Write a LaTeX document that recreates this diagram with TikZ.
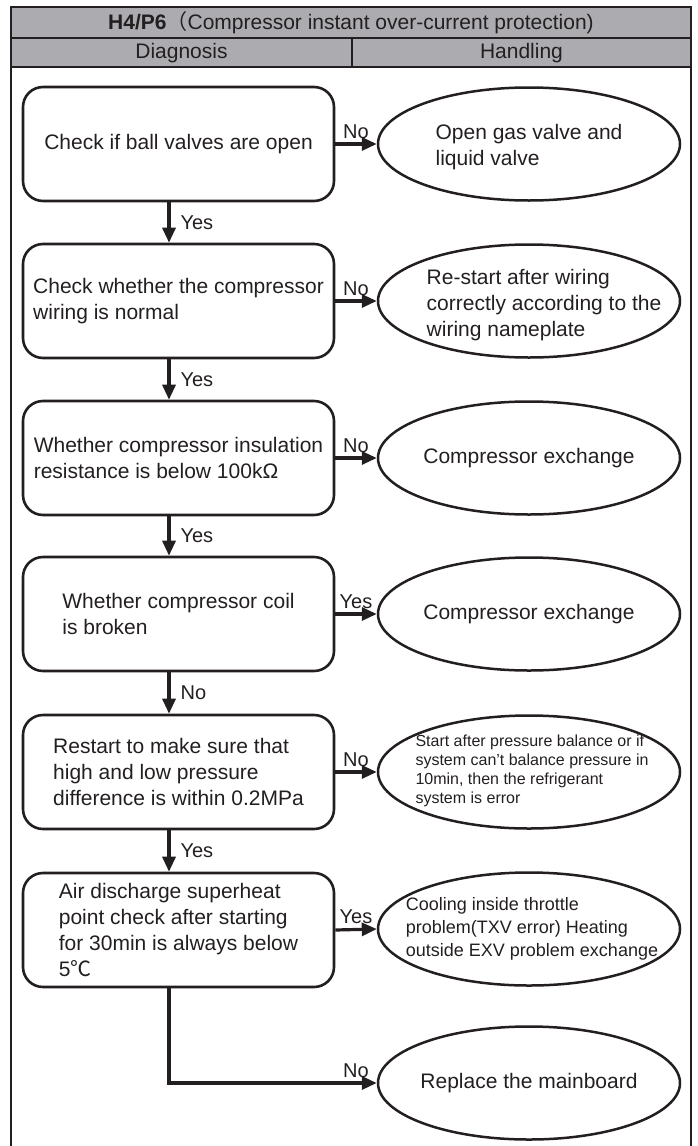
\documentclass[tikz,border=0pt]{standalone}
\usepackage{fontspec}
\setmainfont{Liberation Sans}
\newfontfamily\cjkfont{Noto Sans CJK SC}
\usetikzlibrary{arrows.meta,shapes.geometric}
\definecolor{ink}{RGB}{35,31,32}
\definecolor{headgray}{RGB}{172,172,176}
\begin{document}
\begin{tikzpicture}[x=1pt,y=-1pt,
  every node/.style={text=ink},
  stepbox/.style={draw=ink, line width=2.6pt, rounded corners=20pt,
    minimum width=311pt, minimum height=114pt, inner sep=0pt},
  handle/.style={draw=ink, line width=2.5pt, ellipse,
    minimum width=302pt, minimum height=113pt, inner sep=0pt},
  boxtext/.style={align=left, inner sep=0pt, font=\fontsize{21}{26}\selectfont},
  smalltext/.style={align=left, inner sep=0pt, font=\fontsize{16}{19}\selectfont},
  midtext/.style={align=left, inner sep=0pt, font=\fontsize{18}{23}\selectfont},
  conn/.style={draw=ink, line width=3.2pt, -{Triangle[length=15pt,width=13pt]}},
  lbl/.style={font=\fontsize{20}{23}\selectfont, inner sep=1pt},
  frameline/.style={draw=ink, line width=2.2pt},
  headtext/.style={font=\fontsize{21}{24}\selectfont, inner sep=0pt},
]
\useasboundingbox (0,0) rectangle (697,1146);

% table head
\fill[headgray] (11,7) rectangle (691,67);
\draw[frameline] (11,1146) -- (11,7) -- (691,7) -- (691,1146);
\draw[frameline] (11,38) -- (691,38);
\draw[frameline] (11,67) -- (691,67);
\draw[frameline] (352,38) -- (352,67);
\node[headtext] (title) at (351,23) {\textbf{H4/P6}{\cjkfont （}Compressor instant over-current protection)};
\node[headtext] (diag) at (181.5,53) {Diagnosis};
\node[headtext] (hand) at (521.5,53) {Handling};

% spine of the vertical flow
\coordinate (sp) at (169,0);

% diagnosis steps
\node[stepbox] (b1) at (178.5,144) {};
\node[boxtext] at (b1) {Check if ball valves are open};
\node[stepbox] (b2) at (178.5,301) {};
\node[boxtext] at (b2) {Check whether the compressor\\wiring is normal};
\node[stepbox] (b3) at (178.5,458) {};
\node[boxtext] at (b3) {Whether compressor insulation\\resistance is below 100kΩ};
\node[stepbox] (b4) at (178.5,614) {};
\node[boxtext] at (b4) {Whether compressor coil\\is broken};
\node[stepbox] (b5) at (178.5,772) {};
\node[boxtext] at (b5) {Restart to make sure that\\high and low pressure\\difference is within 0.2MPa};
\node[stepbox] (b6) at (178.5,930) {};
\node[boxtext] at (b6) {Air discharge superheat\\point check after starting\\for 30min is always below\\5{\cjkfont ℃}};

% handling actions
\node[handle] (h1) at (529,144) {};
\node[boxtext] at ([yshift=-3pt]h1.center) {Open gas valve and\\liquid valve};
\node[handle] (h2) at (529,301) {};
\node[boxtext] at ([xshift=15pt,yshift=-4pt]h2.center) {Re-start after wiring\\correctly according to the\\wiring nameplate};
\node[handle] (h3) at (529,458) {};
\node[boxtext] at (h3) {Compressor exchange};
\node[handle] (h4) at (529,614) {};
\node[boxtext] at (h4) {Compressor exchange};
\node[handle] (h5) at (529,772) {};
\node[smalltext] at ([xshift=3pt,yshift=1pt]h5.center) {Start after pressure balance or if\\system can’t balance pressure in\\10min, then the refrigerant\\system is error};
\node[handle] (h6) at (529,929) {};
\node[midtext] at ([xshift=3pt]h6.center) {Cooling inside throttle\\problem(TXV error) Heating\\outside EXV problem exchange};
\node[handle] (h7) at (529,1083) {};
\node[boxtext] at (h7) {Replace the mainboard};

% vertical connectors
\draw[conn] (sp |- b1.south) -- node[lbl, right=9pt] {Yes} (sp |- b2.north);
\draw[conn] (sp |- b2.south) -- node[lbl, right=9pt] {Yes} (sp |- b3.north);
\draw[conn] (sp |- b3.south) -- node[lbl, right=9pt] {Yes} (sp |- b4.north);
\draw[conn] (sp |- b4.south) -- node[lbl, right=9pt] {No} (sp |- b5.north);
\draw[conn] (sp |- b5.south) -- node[lbl, right=9pt] {Yes} (sp |- b6.north);

% horizontal connectors
\draw[conn] (b1.east) -- node[lbl, above=3pt] {No} (h1.west);
\draw[conn] (b2.east) -- node[lbl, above=3pt] {No} (h2.west);
\draw[conn] (b3.east) -- node[lbl, above=3pt] {No} (h3.west);
\draw[conn] (b4.east) -- node[lbl, above=3pt] {Yes} (h4.west);
\draw[conn] (b5.east) -- node[lbl, above=3pt] {No} (h5.west);
\draw[conn] (b6.east) -- node[lbl, above=3pt] {Yes} (h6.west);
\draw[conn] (sp |- b6.south) |- node[lbl, above=3pt, pos=0.95] {No} (h7.west);
\end{tikzpicture}
\end{document}
